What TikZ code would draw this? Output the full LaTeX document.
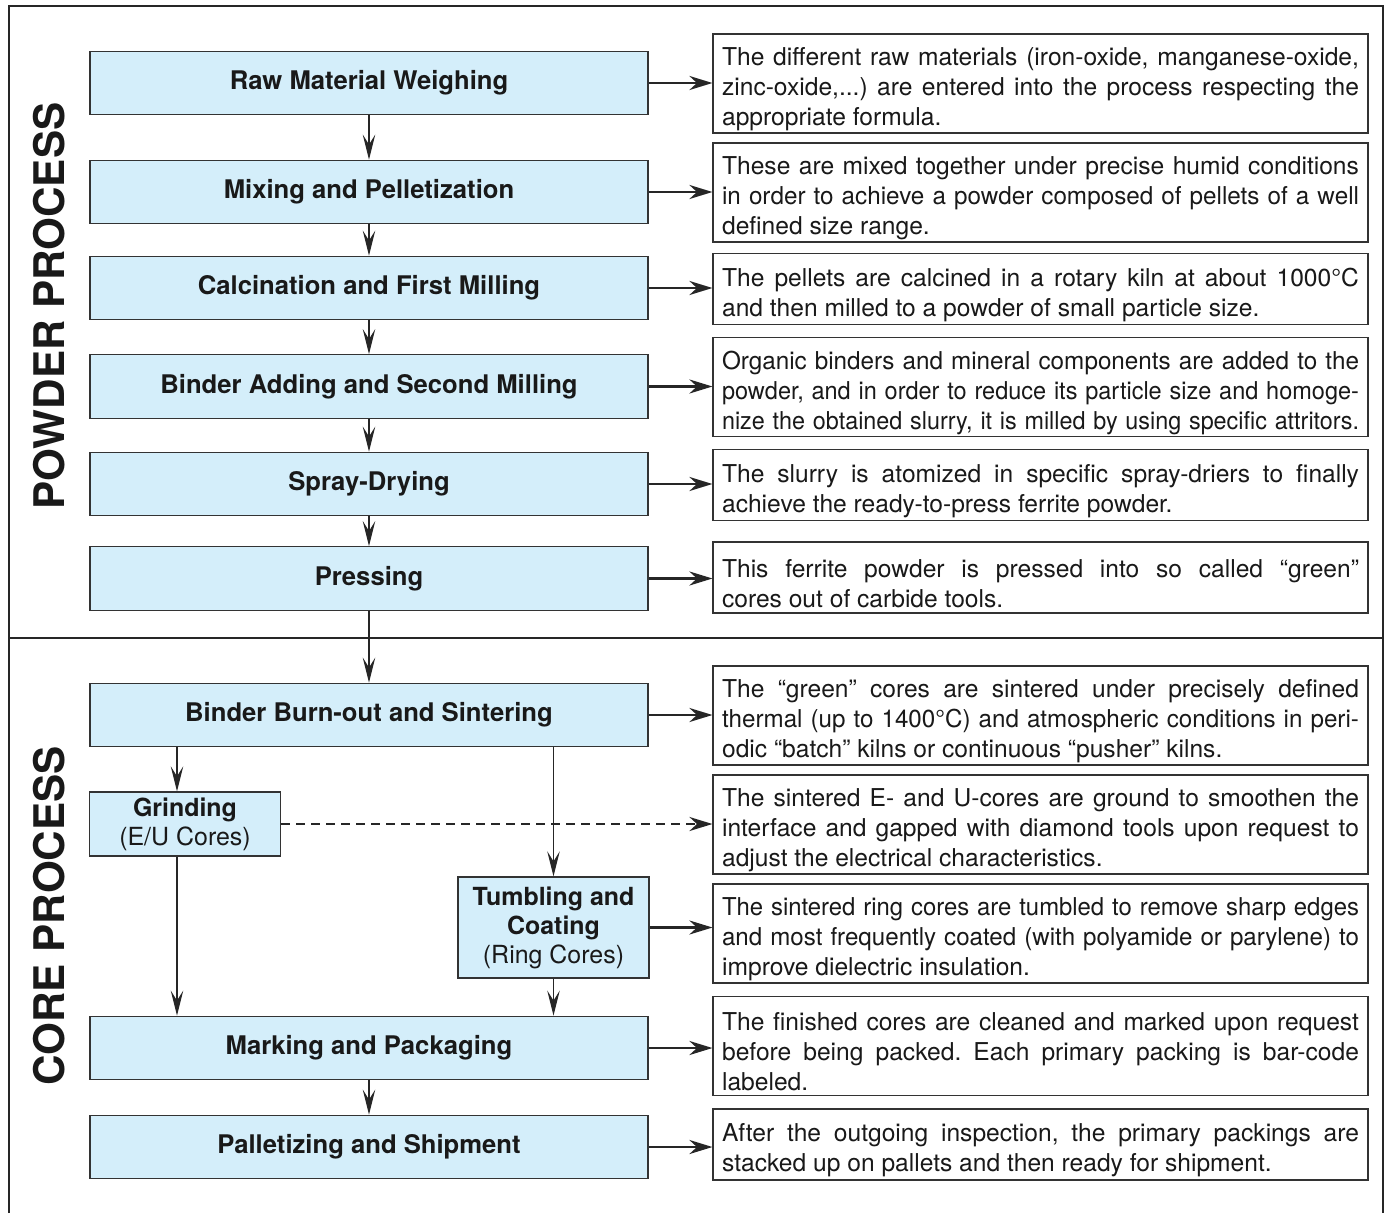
\documentclass[tikz,border=0pt]{standalone}
\usepackage{fontspec}
\setmainfont{TeX Gyre Heros}
\usetikzlibrary{arrows.meta}
\definecolor{stagefill}{HTML}{D4EEFA}
\definecolor{edgegray}{HTML}{333333}
% one full line of a note: stretched to the width, or squeezed if too long
\newsavebox\linebox
\newcommand\fl[1]{\par\noindent\sbox\linebox{#1}%
  \ifdim\wd\linebox>\hsize\resizebox{\hsize}{\height}{\usebox\linebox}%
  \else\hbox to\hsize{\spaceskip=0.278em plus 1em\relax #1}\fi\par}
\begin{document}
\begin{tikzpicture}[x=0.02cm, y=0.02cm]
    \tikzstyle{every node}+=[inner sep=0pt, text=black!90, font=\fontsize{14}{17}\selectfont\frenchspacing]
    \tikzstyle{stage}=[draw=edgegray, line width=0.8pt, fill=stagefill, minimum width=11.16cm, minimum height=1.27cm, font=\fontsize{14.6}{17}\selectfont\bfseries]
    \tikzstyle{small}=[stage, minimum width=3.82cm, align=center, font=\fontsize{14.2}{16.5}\selectfont]
    \tikzstyle{note}=[draw=edgegray, line width=0.7pt, fill=white, text width=12.74cm, inner xsep=0.18cm, inner ysep=0pt, minimum height=1.98cm]
    \tikzstyle{short}=[note, minimum height=1.42cm]
    \tikzstyle{side}=[rotate=90, font=\fontsize{24}{28}\selectfont\bfseries]
    \tikzstyle{flow}=[draw=black!85, line width=0.65pt, -{Stealth[length=0.5cm, width=0.25cm, inset=0.2cm]}]
    \tikzstyle{link}=[draw=black!85, line width=1.6pt, -{Stealth[length=0.46cm, width=0.28cm, inset=0.15cm]}]
    \useasboundingbox (0,0) rectangle (1385,-1213);
    \draw [black!85, line width=1.4pt] (9,-1213) -- (9,-6) -- (1383,-6) -- (1383,-1213);
    \draw [black!85, line width=1.1pt] (9,-638) -- (1383,-638);
    \node[side] (powder) at (49,-306) {POWDER PROCESS};
    \node[side] (core) at (49,-916) {CORE PROCESS};
    % process steps
    \node[stage] (weigh) at (369,-83) {Raw Material Weighing};
    \node[stage] (mix) at (369,-192) {Mixing and Pelletization};
    \node[stage] (calc) at (369,-288) {Calcination and First Milling};
    \node[stage] (bind) at (369,-386.5) {Binder Adding and Second Milling};
    \node[stage] (spray) at (369,-484) {Spray-Drying};
    \node[stage] (press) at (369,-578.5) {Pressing};
    \node[stage] (burn) at (369,-715) {Binder Burn-out and Sintering};
    \node[small, minimum height=1.28cm] (grind) at (185,-824) {\textbf{Grinding}\\(E/U Cores)};
    \node[small, minimum height=2.02cm] (tumble) at (553.5,-927.5) {\textbf{Tumbling and}\\\textbf{Coating}\\(Ring Cores)};
    \node[stage] (mark) at (369,-1048) {Marking and Packaging};
    \node[stage] (ship) at (369,-1147) {Palletizing and Shipment};
    % notes
    \node[note] (n1) at (1040.5,-83.5) {\fl{The different raw materials (iron-oxide, manganese-oxide,}\fl{zinc-oxide,...) are entered into the process respecting the}\fl{appropriate formula.\hfil}};
    \node[note] (n2) at (1040.5,-192.5) {\fl{These are mixed together under precise humid conditions}\fl{in order to achieve a powder composed of pellets of a well}\fl{defined size range.\hfil}};
    \node[short] (n3) at (1040.5,-289) {\fl{The pellets are calcined in a rotary kiln at about 1000°C}\fl{and then milled to a powder of small particle size.\hfil}};
    \node[note] (n4) at (1040.5,-387) {\fl{Organic binders and mineral components are added to the}\fl{powder, and in order to reduce its particle size and homoge-}\fl{nize the obtained slurry, it is milled by using specific attritors.}};
    \node[short] (n5) at (1040.5,-485) {\fl{The slurry is atomized in specific spray-driers to finally}\fl{achieve the ready-to-press ferrite powder.\hfil}};
    \node[short] (n6) at (1040.5,-577.5) {\fl{This ferrite powder is pressed into so called “green”}\fl{cores out of carbide tools.\hfil}};
    \node[note] (n7) at (1040.5,-715.5) {\fl{The “green” cores are sintered under precisely defined}\fl{thermal (up to 1400°C) and atmospheric conditions in peri-}\fl{odic “batch” kilns or continuous “pusher” kilns.\hfil}};
    \node[note] (n8) at (1040.5,-824.5) {\fl{The sintered E- and U-cores are ground to smoothen the}\fl{interface and gapped with diamond tools upon request to}\fl{adjust the electrical characteristics.\hfil}};
    \node[note] (n9) at (1040.5,-933.5) {\fl{The sintered ring cores are tumbled to remove sharp edges}\fl{and most frequently coated (with polyamide or parylene) to}\fl{improve dielectric insulation.\hfil}};
    \node[note] (n10) at (1040.5,-1046) {\fl{The finished cores are cleaned and marked upon request}\fl{before being packed. Each primary packing is bar-code}\fl{labeled.\hfil}};
    \node[short] (n11) at (1040.5,-1144.5) {\fl{After the outgoing inspection, the primary packings are}\fl{stacked up on pallets and then ready for shipment.\hfil}};
    % step to step
    \draw [flow] (weigh.south) -- (mix.north);
    \draw [flow] (mix.south) -- (calc.north);
    \draw [flow] (calc.south) -- (bind.north);
    \draw [flow] (bind.south) -- (spray.north);
    \draw [flow] (spray.south) -- (press.north);
    \draw [flow] (press.south) -- (burn.north);
    \draw [flow] ([xshift=-0.16cm]grind.north |- burn.south) -- ([xshift=-0.16cm]grind.north);
    \draw [flow] (tumble.north |- burn.south) -- (tumble.north);
    \draw [flow] ([xshift=-0.16cm]grind.south) -- ([xshift=-0.16cm]grind.south |- mark.north);
    \draw [flow] (tumble.south) -- (tumble.south |- mark.north);
    \draw [flow] (mark.south) -- (ship.north);
    % step to note
    \draw [link] (weigh.east) -- (weigh.east -| n1.west);
    \draw [link] (mix.east) -- (mix.east -| n2.west);
    \draw [link] (calc.east) -- (calc.east -| n3.west);
    \draw [link] (bind.east) -- (bind.east -| n4.west);
    \draw [link] (spray.east) -- (spray.east -| n5.west);
    \draw [link] (press.east) -- (press.east -| n6.west);
    \draw [link] (burn.east) -- (burn.east -| n7.west);
    \draw [link, line width=1.5pt, dash pattern=on 0.18cm off 0.12cm] (grind.east) -- (grind.east -| n8.west);
    \draw [link] (tumble.east) -- (tumble.east -| n9.west);
    \draw [link] (mark.east) -- (mark.east -| n10.west);
    \draw [link] (ship.east) -- (ship.east -| n11.west);
\end{tikzpicture}
\end{document}
